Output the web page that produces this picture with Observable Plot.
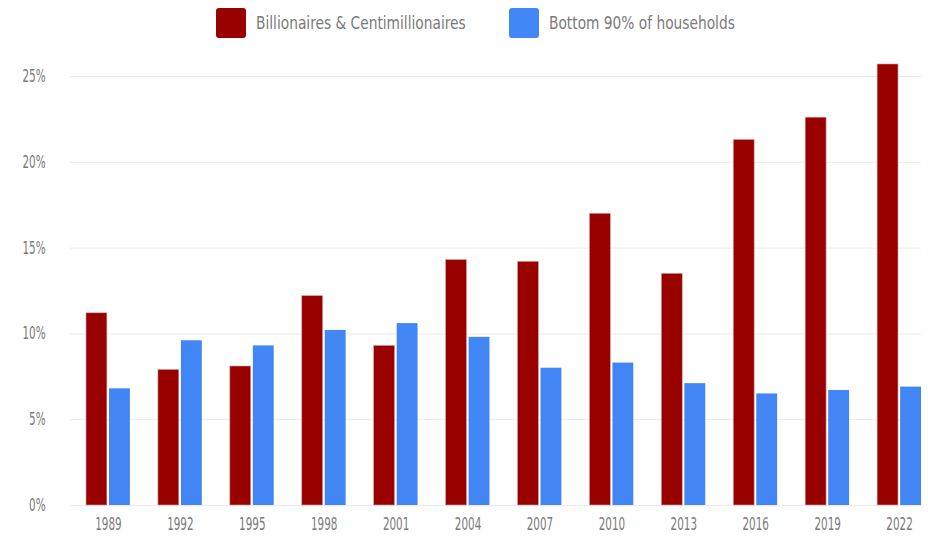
<!DOCTYPE html>
<html>
<head>
<meta charset="utf-8">
<script src="https://cdn.jsdelivr.net/npm/d3@7"></script>
<script src="https://cdn.jsdelivr.net/npm/@observablehq/plot@0.6"></script>
<style>
  html, body { margin: 0; padding: 0; background: #fff; }
  body { width: 928px; height: 536px; overflow: hidden; font-family: "DejaVu Sans Condensed", "Liberation Sans Narrow", sans-serif; }
  #legend { height: 45px; display: flex; align-items: center; padding-left: 216px; box-sizing: border-box; color: #7a7a7a; font-size: 18px; }
  .item { display: flex; align-items: center; }
  .item + .item { margin-left: 43px; }
  .sw { width: 30px; height: 30px; border-radius: 3px; margin-right: 10px; }
  .lbl { display: inline-block; transform: scaleX(0.85); transform-origin: left center; white-space: nowrap; }
</style>
</head>
<body>
<div id="legend"></div>
<div id="chart"></div>
<script>
const years = ["1989","1992","1995","1998","2001","2004","2007","2010","2013","2016","2019","2022"];
const seriesNames = ["Billionaires & Centimillionaires", "Bottom 90% of households"];
const billionaires = [11.2, 7.9, 8.1, 12.2, 9.3, 14.3, 14.2, 17.0, 13.5, 21.3, 22.6, 25.7];
const bottom90 = [6.8, 9.6, 9.3, 10.2, 10.6, 9.8, 8.0, 8.3, 7.1, 6.5, 6.7, 6.9];
const yTicks = [0, 5, 10, 15, 20, 25];
const colors = ["#990000", "#4285f4"];

const legend = document.getElementById("legend");
seriesNames.forEach((s, i) => {
  const it = document.createElement("div");
  it.className = "item";
  const sw = document.createElement("div");
  sw.className = "sw";
  sw.style.background = colors[i];
  const lb = document.createElement("span");
  lb.className = "lbl";
  lb.textContent = s;
  it.appendChild(sw);
  it.appendChild(lb);
  legend.appendChild(it);
});
document.querySelectorAll(".lbl").forEach(el => {
  const w = el.getBoundingClientRect().width;
  el.style.width = (w / 0.85) + "px";
  el.style.marginRight = (-(w / 0.85) * 0.15) + "px";
});

const dataA = years.map((y, i) => ({year: y, value: billionaires[i], series: seriesNames[0]}));
const dataB = years.map((y, i) => ({year: y, value: bottom90[i], series: seriesNames[1]}));

const chart = Plot.plot({
  width: 928,
  height: 491,
  marginLeft: 86,
  marginRight: 7,
  marginTop: 31,
  marginBottom: 31,
  style: {fontFamily: '"DejaVu Sans Condensed", "Liberation Sans Narrow", sans-serif', fontSize: "17px", color: "#7a7a7a", background: "#fff"},
  x: {domain: years, paddingInner: 0.39, paddingOuter: 0, round: false, label: null},
  y: {domain: [0, 25], label: null},
  color: {domain: seriesNames, range: colors},
  marks: [
    Plot.ruleY(yTicks, {stroke: "#ebebeb", strokeWidth: 1, insetLeft: -16, insetRight: 0}),
    Plot.axisY(yTicks, {tickSize: 0, tickPadding: 41, tickFormat: d => d + "%", fontSize: 17, fill: "#7a7a7a"}),
    Plot.axisX({tickSize: 0, tickPadding: 12, fontSize: 17, fill: "#7a7a7a"}),
    Plot.barY(dataA, {x: "year", y: "value", fill: "series", insetRight: 23, stroke: "#d9a0a0", strokeWidth: 0.6}),
    Plot.barY(dataB, {x: "year", y: "value", fill: "series", insetLeft: 23})
  ]
});
// condense the tick labels horizontally (the reference uses a condensed face)
chart.querySelectorAll('g[aria-label="x-axis tick label"] text, g[aria-label="y-axis tick label"] text').forEach(t => {
  const tr = t.getAttribute("transform") || "";
  t.setAttribute("transform", tr + " scale(0.68,1)");
});
document.getElementById("chart").appendChild(chart);
</script>
</body>
</html>
